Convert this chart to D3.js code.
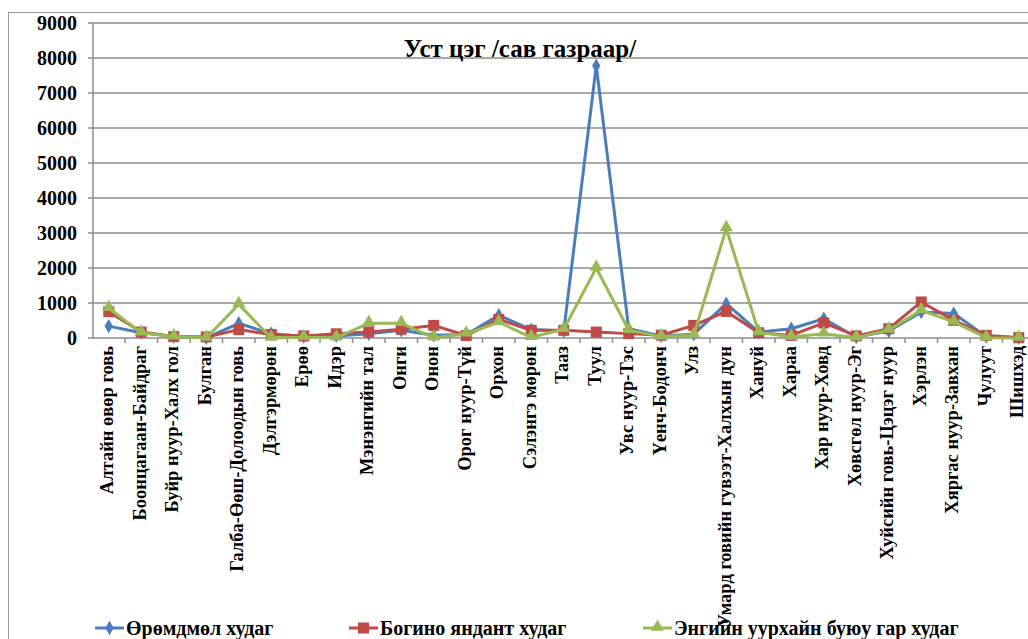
<!DOCTYPE html>
<html>
<head>
<meta charset="utf-8">
<script src="https://cdnjs.cloudflare.com/ajax/libs/d3/7.8.5/d3.min.js"></script>
<style>
body { margin: 0; background: #fff; }
svg { display: block; font-family: "Liberation Serif", "Times New Roman", serif; font-weight: bold; }
</style>
</head>
<body>
<svg id="chart" width="1028" height="639"></svg>
<script>
let width = 1028;
let height = 639;

let categories = ["Алтайн өвөр говь", "Боонцагаан-Байдраг", "Буйр нуур-Халх гол", "Булган",
    "Галба-Өөш-Долоодын говь", "Дэлгэрмөрөн", "Ерөө", "Идэр", "Мэнэнгийн тал", "Онги", "Онон",
    "Орог нуур-Түй", "Орхон", "Сэлэнгэ мөрөн", "Тааз", "Туул", "Увс нуур-Тэс", "Үенч-Бодонч", "Улз",
    "Умард говийн гувээт-Халхын дун", "Хануй", "Хараа", "Хар нуур-Ховд", "Хөвсгөл нуур-Эг",
    "Хуйсийн говь-Цэцэг нуур", "Хэрлэн", "Хяргас нуур-Завхан", "Чулуут", "Шишхэд"];

let seriesNames = ["Өрөмдмөл худаг", "Богино яндант худаг", "Энгийн уурхайн буюу гар худаг"];

let drilled = [340, 150, 40, 5, 420, 120, 40, 60, 120, 220, 80, 100, 650, 240, 200, 7780, 265, 60, 110, 980, 170, 265, 550, 30, 200, 740, 700, 40, 5];
let shortPipe = [750, 170, 40, 30, 240, 100, 60, 120, 175, 250, 360, 70, 530, 220, 220, 170, 125, 80, 360, 760, 150, 75, 430, 60, 265, 1030, 505, 75, 10];
let handDug = [850, 150, 40, 0, 960, 0, 20, 10, 420, 420, 10, 120, 450, 20, 250, 2000, 220, 40, 80, 3130, 160, 30, 120, 10, 230, 790, 460, 10, 0];

let yTicks = [0, 1000, 2000, 3000, 4000, 5000, 6000, 7000, 8000, 9000];

let colors = ["#4A7EBB", "#BE4B48", "#98B954"];
let fontSize = 20;
let labelSize = 18.5;

let svg = d3.select("#chart");

// outer chart border (cut off on the right/bottom like the picture)
svg.append("rect")
    .attr("x", 8.5).attr("y", 12.5)
    .attr("width", width).attr("height", height)
    .attr("fill", "none")
    .style("stroke", "#9a9a9a")
    .style("stroke-width", 1);

let x = d3.scaleBand()
    .domain(categories)
    .range([92.5, 92.5 + 29 * 32.5])
    .padding(0);

let y = d3.scaleLinear()
    .domain([0, 9000])
    .range([338, 23]);

let cx = d => x(d) + x.bandwidth() / 2;

// gridlines
svg.selectAll(".grid")
    .data(yTicks)
    .enter().append("line")
    .attr("class", "grid")
    .attr("x1", 88).attr("x2", width)
    .attr("y1", d => y(d)).attr("y2", d => y(d))
    .style("stroke", "#8c8c8c")
    .style("stroke-width", 1.5);

// y axis line
svg.append("line")
    .attr("x1", 93).attr("x2", 93)
    .attr("y1", y(9000)).attr("y2", y(0))
    .style("stroke", "#8c8c8c")
    .style("stroke-width", 1.5);

// y tick labels
svg.selectAll(".ylab")
    .data(yTicks)
    .enter().append("text")
    .attr("class", "ylab")
    .attr("x", 77)
    .attr("y", d => y(d))
    .attr("dy", "0.35em")
    .attr("text-anchor", "end")
    .style("font-size", fontSize + "px")
    .text(d => d);

// x tick marks at band edges
svg.selectAll(".xtick")
    .data(categories)
    .enter().append("line")
    .attr("class", "xtick")
    .attr("x1", d => x(d) + x.bandwidth()).attr("x2", d => x(d) + x.bandwidth())
    .attr("y1", y(0)).attr("y2", y(0) + 5)
    .style("stroke", "#8c8c8c")
    .style("stroke-width", 1.5);

// x labels, rotated
svg.selectAll(".xlab")
    .data(categories)
    .enter().append("text")
    .attr("class", "xlab")
    .attr("transform", d => "translate(" + (cx(d) - 1) + "," + (y(0) + 8) + ") rotate(-90)")
    .attr("dy", "0.3em")
    .attr("text-anchor", "end")
    .style("font-size", labelSize + "px")
    .text(d => d);

// title
svg.append("text")
    .attr("x", 520)
    .attr("y", 57)
    .attr("text-anchor", "middle")
    .style("font-size", "25px")
    .text("Уст цэг /сав газраар/");

function marker(g, i, px, py) {
    if (i == 0) {
        g.append("path")
            .attr("d", d3.symbol().type(d3.symbolDiamond).size(60)())
            .attr("transform", "translate(" + px + "," + py + ")")
            .attr("fill", colors[0]);
    } else if (i == 1) {
        g.append("rect")
            .attr("x", px - 5.5).attr("y", py - 5.5)
            .attr("width", 11).attr("height", 11)
            .attr("fill", colors[1]);
    } else {
        g.append("path")
            .attr("d", d3.symbol().type(d3.symbolTriangle).size(75)())
            .attr("transform", "translate(" + px + "," + (py - 1) + ")")
            .attr("fill", colors[2]);
    }
}

let allSeries = [drilled, shortPipe, handDug];
let line = d3.line()
    .x((d, i) => cx(categories[i]))
    .y(d => y(d));

allSeries.forEach((values, s) => {
    let g = svg.append("g");
    g.append("path")
        .datum(values)
        .attr("d", line)
        .attr("fill", "none")
        .style("stroke", colors[s])
        .style("stroke-width", 3)
        .style("stroke-linejoin", "round");
    values.forEach((v, i) => marker(g, s, cx(categories[i]), y(v)));
});

// legend
let legendX = [95, 349, 643];
seriesNames.forEach((name, s) => {
    let g = svg.append("g");
    g.append("line")
        .attr("x1", legendX[s]).attr("x2", legendX[s] + 29)
        .attr("y1", 628).attr("y2", 628)
        .style("stroke", colors[s])
        .style("stroke-width", 3);
    marker(g, s, legendX[s] + 14.5, 628);
    g.append("text")
        .attr("x", legendX[s] + 31)
        .attr("y", 628)
        .attr("dy", "0.35em")
        .style("font-size", fontSize + "px")
        .text(name);
});
</script>
</body>
</html>
